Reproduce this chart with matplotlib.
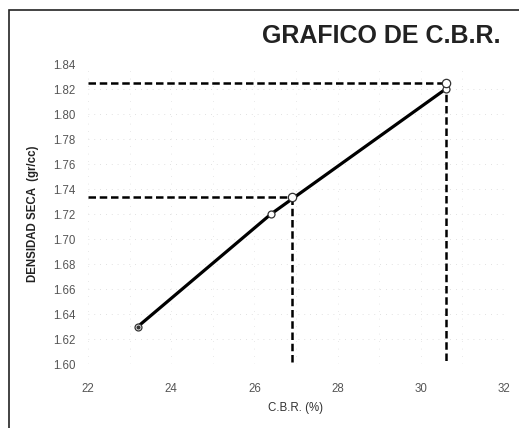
import matplotlib
matplotlib.use("Agg")
import matplotlib.pyplot as plt
from matplotlib.patches import Rectangle

# Data
cbr = [23.2, 26.4, 30.6]
density = [1.63, 1.72, 1.82]

# Reference reading points (95% and 100% of max dry density)
ref_cbr = [26.9, 30.6]
ref_density = [1.7335, 1.825]

x_ticks = [22, 24, 26, 28, 30, 32]
y_ticks = [1.60, 1.62, 1.64, 1.66, 1.68, 1.70, 1.72, 1.74, 1.76, 1.78, 1.80, 1.82, 1.84]

title = "GRAFICO DE C.B.R."
xlabel = "C.B.R. (%)"
ylabel = "DENSIDAD SECA  (gr/cc)"

plt.rcParams['font.family'] = ['Liberation Sans', 'DejaVu Sans']

fig = plt.figure(figsize=(5.19, 4.28), dpi=100)
ax = fig.add_axes([88/519, 1-364/428, (504-88)/519, 300/428])

# outer frame
fig.patches.append(Rectangle((9/519, -0.05), 1.2, 1 - 10/428 + 0.05, transform=fig.transFigure,
                             fill=False, edgecolor='#222222', linewidth=1.2))

ax.set_xlim(22, 32)
ax.set_ylim(1.60, 1.84)
ax.set_xticks(x_ticks)
ax.set_yticks(y_ticks)
ax.set_yticklabels([f"{v:.2f}" for v in y_ticks])
ax.tick_params(length=0, labelsize=8.3, colors='#555555')
ax.tick_params(axis='x', pad=14)
ax.tick_params(axis='y', pad=9)

for s in ax.spines.values():
    s.set_visible(False)

# faint grid
for yv in y_ticks[1:-1]:
    ax.axhline(yv, color='#d8d8d8', linewidth=0.6, linestyle=(0, (1, 6)), zorder=0)
for xv in range(22, 33):
    ax.axvline(xv, color='#e2e2e2', linewidth=0.6, linestyle=(0, (1, 8)), zorder=0)

# dashed reference lines
for xr, yr in zip(ref_cbr, ref_density):
    ax.plot([22, xr], [yr, yr], color='black', linestyle=(0, (3, 1.5)), linewidth=1.8, zorder=2)
    ax.plot([xr, xr], [yr, 1.601], color='black', linestyle=(0, (3, 1.5)), linewidth=1.8, zorder=2)

# main curve
ax.plot(cbr, density, color='black', linewidth=2.3, zorder=3, solid_joinstyle='round')
ax.plot(cbr, density, linestyle='none', marker='o', markersize=5, markerfacecolor='white',
        markeredgecolor='#333333', markeredgewidth=0.9, zorder=4)
ax.plot(cbr[:1], density[:1], linestyle='none', marker='o', markersize=2, color='#333333', zorder=5)
ax.plot(ref_cbr, ref_density, linestyle='none', marker='o', markersize=6, markerfacecolor='white',
        markeredgecolor='#333333', markeredgewidth=0.9, zorder=5)

fig.text(500/519, 1-36/428, title, ha='right', va='center', fontsize=18,
         fontweight='bold', color='#222222')
ax.set_xlabel(xlabel, fontsize=8.3, color='#333333', labelpad=5)
ax.set_ylabel(ylabel, fontsize=8.3, color='#222222', fontweight='bold', labelpad=10)

fig.savefig("out.png", dpi=100)
